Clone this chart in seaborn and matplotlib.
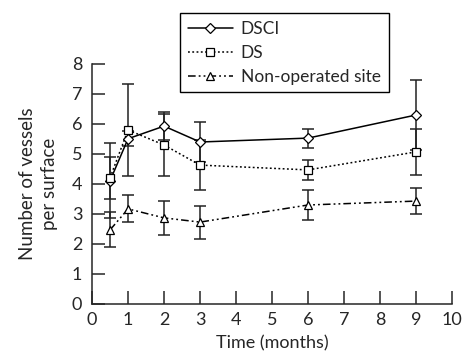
import numpy as np
import pandas as pd
import seaborn as sns
import matplotlib.pyplot as plt

sns.set_style("ticks")
plt.rcParams['font.family'] = ['Lato', 'DejaVu Sans']

# 관측 시점 (months)
months = [0.5, 1, 2, 3, 6, 9]

# 평균값과 오차
dsci = [4.1, 5.5, 5.92, 5.39, 5.52, 6.29]
dsci_err = [1.25, 0.25, 0.47, 0.67, 0.32, 1.17]

ds = [4.2, 5.79, 5.29, 4.62, 4.46, 5.06]
ds_err = [0.7, 1.53, 1.03, 0.83, 0.34, 0.78]

nonop = [2.46, 3.16, 2.86, 2.72, 3.29, 3.42]
nonop_err = [0.58, 0.45, 0.57, 0.55, 0.49, 0.43]

labels = ["DSCI", "DS", "Non-operated site"]

fig = plt.figure(figsize=(4.65, 3.56), dpi=100)
ax = fig.add_axes([0.198, 0.147, 0.774, 0.674])

series = [
    (dsci, dsci_err, "D", "-"),
    (ds, ds_err, "s", (0, (1.2, 1.6))),
    (nonop, nonop_err, "^", (0, (5, 2, 1.2, 2, 1.2, 2))),
]

for (vals, err, mk, ls), lab in zip(series, labels):
    ax.errorbar(months, vals, yerr=err, fmt="none", ecolor="#222222",
                elinewidth=1.1, capsize=4.3, capthick=1.1, zorder=2)
    sns.lineplot(x=months, y=vals, ax=ax, color="black", linewidth=1.1,
                 linestyle=ls, marker=mk, markersize=6 if mk != "D" else 5,
                 markerfacecolor="white", markeredgecolor="black",
                 markeredgewidth=0.9, label=lab, zorder=3)

ax.set_xlim(0, 10)
ax.set_ylim(0, 8)
ax.set_xticks(range(0, 11))
ax.set_yticks(range(0, 9))
ax.tick_params(direction="in", length=9.5, width=1.1, labelsize=13)
ax.tick_params(axis="y", pad=7)
ax.tick_params(axis="x", pad=6)
for s in ["top", "right"]:
    ax.spines[s].set_visible(False)
for s in ["left", "bottom"]:
    ax.spines[s].set_linewidth(1.1)

ax.set_xlabel("Time (months)", fontsize=13, labelpad=5)
ax.set_ylabel("Number of vessels\nper surface", fontsize=13.5, labelpad=10,
              linespacing=1.35)

leg = ax.legend(loc="upper left", bbox_to_anchor=(0.387, 0.963),
                bbox_transform=fig.transFigure, frameon=True, fancybox=False,
                edgecolor="black", fontsize=12.5, handlelength=2.6,
                borderpad=0.45, labelspacing=0.45, handletextpad=0.45,
                borderaxespad=0)
leg.get_frame().set_linewidth(1.0)
leg.get_frame().set_alpha(1)

fig.savefig("out.png", dpi=100)
